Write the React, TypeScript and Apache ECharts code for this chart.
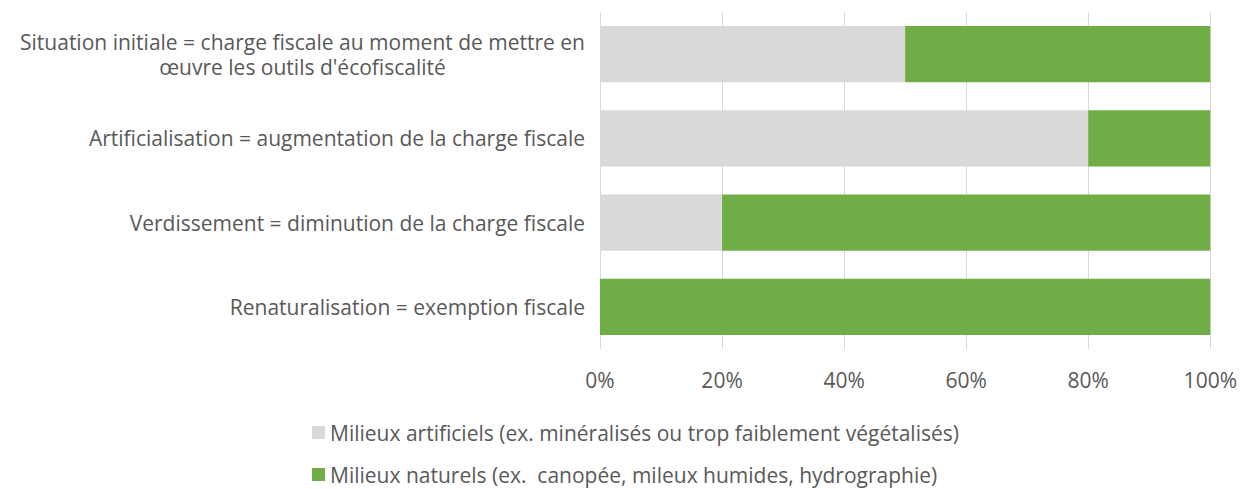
import React, { useEffect, useRef } from "react";
import * as echarts from "echarts";

const categories = [
  "Situation initiale = charge fiscale au moment de mettre en\nœuvre les outils d'écofiscalité",
  "Artificialisation = augmentation de la charge fiscale",
  "Verdissement = diminution de la charge fiscale",
  "Renaturalisation = exemption fiscale",
];
const artificialValues = [50, 80, 20, 0];
const naturalValues = [50, 20, 80, 100];
const seriesNames = [
  "Milieux artificiels (ex. minéralisés ou trop faiblement végétalisés)",
  "Milieux naturels (ex.  canopée, mileux humides, hydrographie)",
];
const xTicks = { min: 0, max: 100, interval: 20 };

const FONT = "'Open Sans', sans-serif";
const TEXT = "#595959";
const FS = 21;

export default function App() {
  const ref = useRef<HTMLDivElement>(null);
  useEffect(() => {
    if (!ref.current) return;
    const chart = echarts.init(ref.current, undefined, { renderer: "svg" });
    const legendBase = {
      orient: "vertical",
      left: 304,
      padding: 0,
      itemWidth: 13,
      itemHeight: 13,
      icon: "rect",
      textStyle: { color: TEXT, fontSize: FS, fontFamily: FONT },
    };
    chart.setOption({
      animation: false,
      textStyle: { fontFamily: FONT },
      grid: { left: 592, right: 28, top: 4, bottom: 140, containLabel: false },
      xAxis: {
        type: "value",
        min: xTicks.min,
        max: xTicks.max,
        interval: xTicks.interval,
        axisLine: { show: false },
        axisTick: { show: false },
        splitLine: { show: true, lineStyle: { color: "#D9D9D9", width: 1 } },
        axisLabel: {
          formatter: "{value}%",
          color: TEXT,
          fontSize: FS,
          fontFamily: FONT,
          margin: 20,
        },
      },
      yAxis: {
        type: "category",
        inverse: true,
        data: categories,
        axisLine: { show: false },
        axisTick: { show: false },
        axisLabel: {
          margin: 15,
          color: TEXT,
          fontSize: FS,
          fontFamily: FONT,
          align: "right",
          formatter: (v: string) =>
            v
              .split("\n")
              .map((l) => `{c|${l}}`)
              .join("\n"),
          rich: {
            c: {
              align: "center",
              color: TEXT,
              fontSize: FS,
              fontFamily: FONT,
              lineHeight: 25,
            },
          },
        },
      },
      legend: [
        { ...legendBase, top: 414, data: [seriesNames[0]] },
        { ...legendBase, top: 456, data: [seriesNames[1]] },
      ],
      series: [
        {
          name: seriesNames[0],
          type: "bar",
          stack: "total",
          barWidth: "67%",
          itemStyle: { color: "#D9D9D9" },
          data: artificialValues,
        },
        {
          name: seriesNames[1],
          type: "bar",
          stack: "total",
          barWidth: "67%",
          itemStyle: { color: "#70AD47" },
          data: naturalValues,
        },
      ],
    });
    return () => chart.dispose();
  }, []);
  return <div ref={ref} style={{ width: 1232, height: 481 }} />;
}
